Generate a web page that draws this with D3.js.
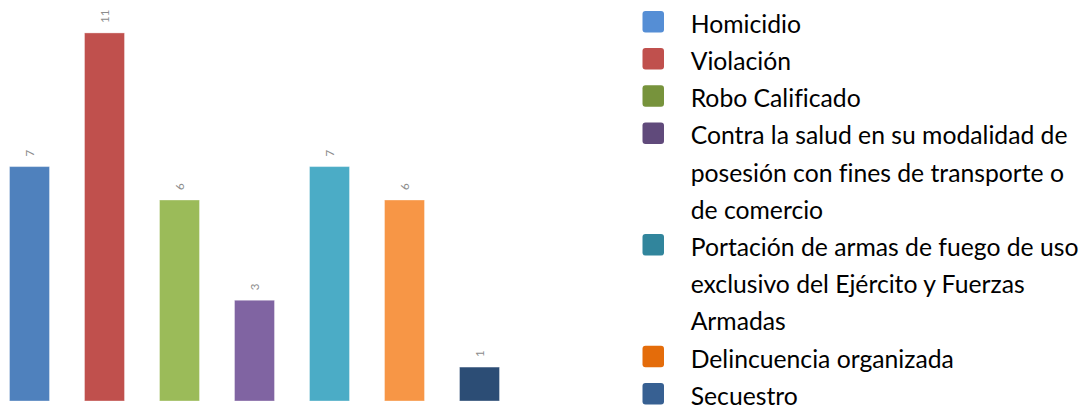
<!DOCTYPE html>
<html>
<head>
<meta charset="utf-8">
<script src="https://cdn.jsdelivr.net/npm/d3@7"></script>
<style>
  html, body { margin: 0; padding: 0; background: #fff; }
  svg { display: block; }
  text { font-variant-ligatures: none; font-feature-settings: "liga" 0; }
</style>
</head>
<body>
<svg id="chart" width="1083" height="409"></svg>
<script>
const categories = [
  "Homicidio",
  "Violación",
  "Robo Calificado",
  "Contra la salud en su modalidad de\nposesión con fines de transporte o\nde comercio",
  "Portación de armas de fuego de uso\nexclusivo del Ejército y Fuerzas\nArmadas",
  "Delincuencia organizada",
  "Secuestro"
];
const values = [7, 11, 6, 3, 7, 6, 1];
const barColors = ["#4F81BD", "#C0504D", "#9BBB59", "#8064A2", "#4BACC6", "#F79646", "#2C4D75"];
const legendColors = ["#558ED5", "#C0504D", "#77933C", "#604A7B", "#31859C", "#E46C0A", "#376092"];

const svg = d3.select("#chart");
const keys = d3.range(categories.length);

const x = d3.scaleBand().domain(keys).range([-8, 517]).paddingInner(0.467).paddingOuter(0.2335);
const y = d3.scaleLinear().domain([0, 12]).range([400.5, -0.5]);

const g = svg.append("g");
g.selectAll("rect.bar").data(keys).join("rect")
  .attr("class", "bar")
  .attr("x", i => x(i))
  .attr("y", i => y(values[i]))
  .attr("width", x.bandwidth())
  .attr("height", i => y(0) - y(values[i]) + 0.5)
  .attr("fill", i => barColors[i])
  .attr("stroke", "#ffffff")
  .attr("stroke-opacity", 0.35)
  .attr("stroke-width", 1);

g.selectAll("text.val").data(keys).join("text")
  .attr("class", "val")
  .attr("transform", i => `translate(${x(i) + x.bandwidth() / 2},${y(values[i]) - 10}) rotate(-90)`)
  .attr("text-anchor", "start")
  .attr("dominant-baseline", "central")
  .attr("font-family", "Lato, 'Open Sans', sans-serif")
  .attr("font-size", 11.5)
  .attr("fill", "#8c8c8c")
  .text(i => values[i]);

// Legend
const legendX = 642.5, textX = 690.7, firstBaseline = 32.7, lineH = 37.2, sw = 21.5;
const fontFamily = "Lato, 'Open Sans', sans-serif";
// fit font size so the longest line spans the reference width
const probe = svg.append("text").attr("font-family", fontFamily).attr("font-size", 20)
  .text("Contra la salud en su modalidad de");
const w20 = probe.node().getComputedTextLength();
probe.remove();
const fontSize = 20 * 377 / w20;

const legend = svg.append("g");
let lineIdx = 0;
categories.forEach((cat, i) => {
  const lines = cat.split("\n");
  const base = firstBaseline + lineH * lineIdx;
  legend.append("rect")
    .attr("x", legendX).attr("y", base - sw - 0.3)
    .attr("width", sw).attr("height", sw)
    .attr("rx", 3).attr("ry", 3)
    .attr("fill", legendColors[i]);
  lines.forEach((ln, j) => {
    legend.append("text")
      .attr("x", textX)
      .attr("y", firstBaseline + lineH * (lineIdx + j))
      .attr("font-family", fontFamily)
      .attr("font-size", fontSize)
      .attr("fill", "#000")
      .text(ln);
  });
  lineIdx += lines.length;
});
</script>
</body>
</html>
